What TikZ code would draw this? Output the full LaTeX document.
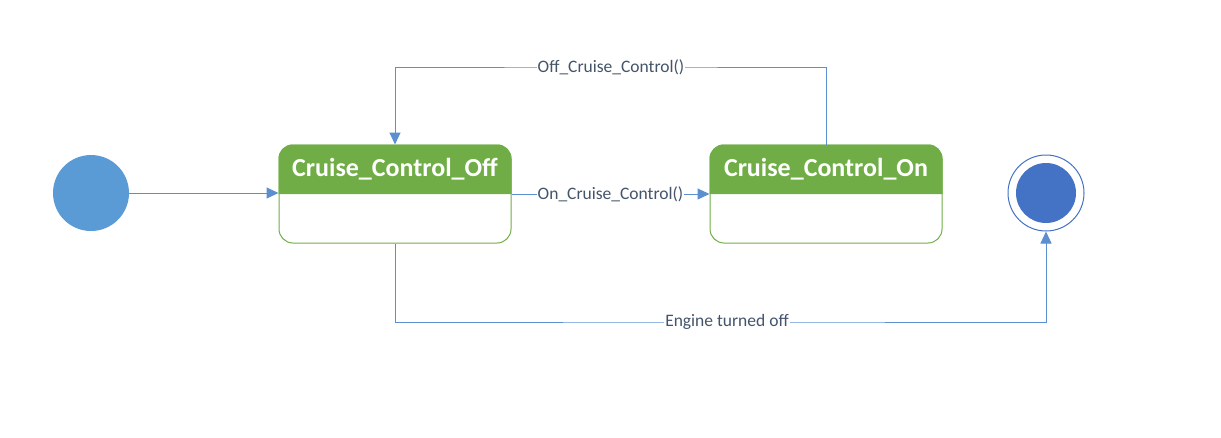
\documentclass[tikz,border=0pt]{standalone}
\usepackage{fontspec}
\setmainfont{Carlito}
\usetikzlibrary{arrows.meta}

\definecolor{stategreen}{HTML}{70AD47}
\definecolor{linkblue}{HTML}{5B8FD0}
\definecolor{startblue}{HTML}{5B9BD5}
\definecolor{endblue}{HTML}{4472C4}
\definecolor{labelgrey}{HTML}{44546A}

\tikzset{
    statebox/.style={draw=stategreen, line width=1pt, rounded corners=14pt, minimum width=232pt, minimum height=98pt},
    statetitle/.style={text=white, font=\bfseries\fontsize{26}{30}\selectfont},
    link/.style={draw=linkblue, line width=1pt, -{Triangle[length=12pt,width=11pt]}},
    linklabel/.style={fill=white, text=labelgrey, inner sep=1pt, font=\fontsize{17.5}{20}\selectfont}
}

\begin{document}
\begin{tikzpicture}[x=1pt, y=-1pt]

    % Рамка картинки
    \useasboundingbox (0, 0) rectangle (1221, 437);

    % Начальное и конечное состояния
    \node[circle, fill=startblue, minimum size=76pt, inner sep=0pt] (init) at (91, 193) {};
    \node[circle, draw=endblue, line width=1pt, minimum size=76pt, inner sep=0pt] (final) at (1046, 193) {};
    \node[circle, fill=endblue, minimum size=60pt, inner sep=0pt] (finalin) at (1046, 193) {};

    % Состояния
    \node[statebox] (off) at (395, 194) {};
    \node[statebox] (on) at (826, 194) {};

    % Зелёные заголовки
    \fill[stategreen] (off.west) [rounded corners=14pt] -- (off.north west) -- (off.north east) [sharp corners] -- (off.east) -- cycle;
    \fill[stategreen] (on.west) [rounded corners=14pt] -- (on.north west) -- (on.north east) [sharp corners] -- (on.east) -- cycle;
    \node[statetitle] (offtitle) at (395, 169) {Cruise\_Control\_Off};
    \node[statetitle] (ontitle) at (826, 169) {Cruise\_Control\_On};

    % Точки изломов
    \coordinate (looptop) at (611, 67);
    \coordinate (loopbottom) at (727, 322);

    % Переходы
    \draw[link] (init) -- (init -| off.west);
    \draw[link] (off.east) -- node[linklabel] {On\_Cruise\_Control()} (on.west);
    \draw[link] (on.north) |- (looptop) node[linklabel] {Off\_Cruise\_Control()} -| (off.north);
    \draw[link] (off.south) |- (loopbottom) node[linklabel] {Engine turned off} -| (final.south);
\end{tikzpicture}
\end{document}
